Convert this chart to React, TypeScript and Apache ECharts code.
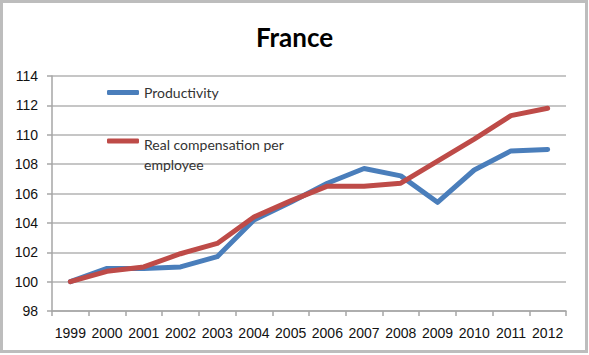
import React, { useEffect, useRef } from "react";
import * as echarts from "echarts";

const years = ["1999", "2000", "2001", "2002", "2003", "2004", "2005", "2006", "2007", "2008", "2009", "2010", "2011", "2012"];
const productivity = [100, 100.9, 100.9, 101.0, 101.7, 104.2, 105.4, 106.7, 107.7, 107.2, 105.4, 107.6, 108.9, 109.0];
const realCompensation = [100, 100.7, 101.0, 101.9, 102.6, 104.4, 105.5, 106.5, 106.5, 106.7, 108.2, 109.7, 111.3, 111.8];
const seriesNames = ["Productivity", "Real compensation per employee"];
const chartTitle = "France";

const FONT = "'Liberation Sans', Arial, sans-serif";
const LEGEND_FONT = "Lato, 'Open Sans', sans-serif";

export default function App() {
  const ref = useRef<HTMLDivElement>(null);
  useEffect(() => {
    if (!ref.current) return;
    const chart = echarts.init(ref.current, undefined, { renderer: "svg" });
    const legendRich = {
      a: { fontFamily: LEGEND_FONT, fontSize: 14, color: "#333", lineHeight: 20.5 },
      b: { fontFamily: LEGEND_FONT, fontSize: 14, color: "#333", lineHeight: 27 },
    };
    chart.setOption({
      animation: false,
      backgroundColor: "#ffffff",
      title: {
        text: chartTitle,
        left: "center",
        top: 19,
        textStyle: { fontFamily: LEGEND_FONT, fontSize: 26, fontWeight: "bold", color: "#000" },
      },
      graphic: [
        {
          type: "rect",
          shape: { x: 1.5, y: 1.5, width: 585, height: 350 },
          style: { fill: "none", stroke: "#bdbdbd", lineWidth: 3 },
          silent: true,
        },
      ],
      legend: [
        {
          data: [seriesNames[0]],
          left: 107,
          top: 85.5,
          padding: 0,
          icon: "roundRect",
          itemWidth: 32,
          itemHeight: 5,
          formatter: (n: string) => "{a|" + n + "}",
          textStyle: { rich: legendRich },
        },
        {
          data: [seriesNames[1]],
          left: 107,
          top: 113.5,
          padding: 0,
          icon: "roundRect",
          itemWidth: 32,
          itemHeight: 5,
          formatter: () => "{b| }\n{a|Real compensation per}\n{a|employee}",
          textStyle: { rich: legendRich },
        },
      ],
      grid: { left: 52, right: 23, top: 76, bottom: 44 },
      xAxis: {
        type: "category",
        data: years,
        boundaryGap: true,
        axisLine: { lineStyle: { color: "#a6a6a6", width: 1.5 } },
        axisTick: { show: true, length: 5, lineStyle: { color: "#a6a6a6", width: 1.5 } },
        axisLabel: { fontFamily: FONT, fontSize: 14, color: "#111", margin: 15, interval: 0 },
      },
      yAxis: {
        type: "value",
        min: 98,
        max: 114,
        interval: 2,
        axisLine: { show: true, lineStyle: { color: "#a6a6a6", width: 1.5 } },
        axisTick: { show: true, length: 5, lineStyle: { color: "#a6a6a6", width: 1.5 } },
        axisLabel: { fontFamily: FONT, fontSize: 14, color: "#111", margin: 14 },
        splitLine: { show: true, lineStyle: { color: "#b3b3b3", width: 1.5 } },
      },
      series: [
        {
          name: seriesNames[0],
          type: "line",
          data: productivity,
          showSymbol: false,
          symbol: "none",
          lineStyle: { color: "#4a7ebb", width: 5, join: "round", cap: "round" },
          itemStyle: { color: "#4a7ebb" },
        },
        {
          name: seriesNames[1],
          type: "line",
          data: realCompensation,
          showSymbol: false,
          symbol: "none",
          lineStyle: { color: "#be4b48", width: 5, join: "round", cap: "round" },
          itemStyle: { color: "#be4b48" },
        },
      ],
    });
    return () => chart.dispose();
  }, []);
  return (
    <div
      ref={ref}
      style={{ position: "fixed", left: 0, top: 0, width: 589, height: 355 }}
    />
  );
}
